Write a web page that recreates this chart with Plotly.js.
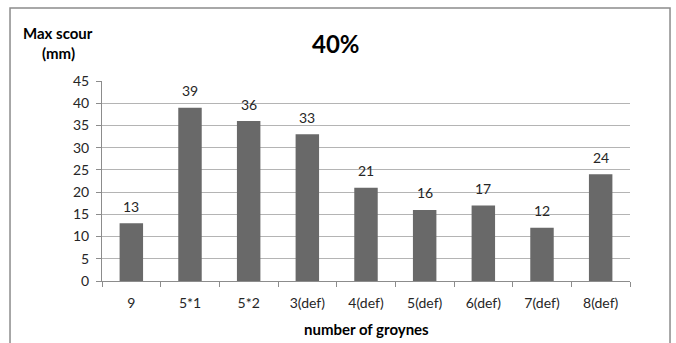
<!DOCTYPE html>
<html>
<head>
<meta charset="utf-8">
<script src="https://cdn.plot.ly/plotly-3.0.1.min.js"></script>
<style>
  html, body { margin: 0; padding: 0; background: #fff; }
  #chart { width: 676px; height: 343px; }
</style>
</head>
<body>
<div id="chart"></div>
<script>
// Groyne configurations and the maximum scour measured for each
const categories = ["9", "5*1", "5*2", "3(def)", "4(def)", "5(def)", "6(def)", "7(def)", "8(def)"];
const maxScour = [13, 39, 36, 33, 21, 16, 17, 12, 24];
const yTicks = [0, 5, 10, 15, 20, 25, 30, 35, 40, 45];

const FONT = "Lato, 'Open Sans', 'Liberation Sans', sans-serif";

const trace = {
  type: "bar",
  x: categories,
  y: maxScour,
  width: 0.4,
  marker: { color: "#696969" },
  hoverinfo: "x+y"
};

// value labels sitting above each bar (x given as the category's index
// so a numeric-looking name like "9" is not read as a position)
const valueLabels = categories.map((c, i) => ({
  x: i, y: maxScour[i], xref: "x", yref: "y",
  text: String(maxScour[i]),
  showarrow: false, xanchor: "center", yanchor: "middle", yshift: 17,
  font: { family: FONT, size: 14, color: "#262626" }
}));

const layout = {
  width: 676,
  height: 343,
  margin: { l: 102, r: 46, t: 81, b: 62 },
  paper_bgcolor: "#ffffff",
  plot_bgcolor: "#ffffff",
  showlegend: false,
  font: { family: FONT, size: 14, color: "#262626" },
  xaxis: {
    type: "category",
    tickson: "boundaries",
    ticks: "outside",
    ticklen: 5,
    tickcolor: "#8c8c8c",
    ticklabelstandoff: 9,
    showline: true,
    linecolor: "#8c8c8c",
    linewidth: 1,
    showgrid: false,
    tickfont: { family: FONT, size: 14, color: "#262626" },
    fixedrange: true
  },
  yaxis: {
    range: [0, 45],
    tickvals: yTicks,
    ticks: "outside",
    ticklen: 5,
    tickcolor: "#8c8c8c",
    ticklabelstandoff: 4,
    showline: true,
    linecolor: "#8c8c8c",
    linewidth: 1,
    showgrid: true,
    gridcolor: "#b4b4b4",
    gridwidth: 1,
    zeroline: false,
    tickfont: { family: FONT, size: 14, color: "#262626" },
    fixedrange: true
  },
  shapes: [
    {
      type: "rect", xref: "paper", yref: "paper",
      x0: -0.1742, x1: 1.0758, y0: -0.36, y1: 1.365,
      line: { color: "#8c8c8c", width: 1.5 },
      fillcolor: "rgba(0,0,0,0)",
      layer: "below"
    }
  ],
  annotations: [
    {
      text: "<b>40%</b>", xref: "paper", yref: "paper",
      x: 0.443, y: 1.185, xanchor: "center", yanchor: "middle",
      showarrow: false, font: { family: FONT, size: 24, color: "#000000" }
    },
    {
      text: "<b>Max scour</b>", xref: "paper", yref: "paper",
      x: -0.083, y: 1.24, xanchor: "center", yanchor: "middle",
      showarrow: false, font: { family: FONT, size: 15, color: "#000000" }
    },
    {
      text: "<b>(mm)</b>", xref: "paper", yref: "paper",
      x: -0.083, y: 1.14, xanchor: "center", yanchor: "middle",
      showarrow: false, font: { family: FONT, size: 15, color: "#000000" }
    },
    {
      text: "<b>number of groynes</b>", xref: "paper", yref: "paper",
      x: 0.500, y: -0.24, xanchor: "center", yanchor: "middle",
      showarrow: false, font: { family: FONT, size: 15, color: "#000000" }
    }
  ].concat(valueLabels)
};

Plotly.newPlot("chart", [trace], layout, { displayModeBar: false, staticPlot: true });
</script>
</body>
</html>
